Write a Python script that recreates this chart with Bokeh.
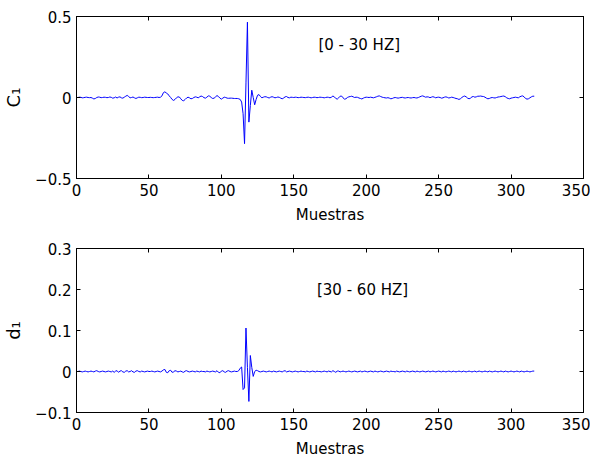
from bokeh.plotting import figure
from bokeh.layouts import column
from bokeh.models import Range1d, LinearAxis, FixedTicker, Label
from bokeh.embed import file_html
from bokeh.resources import INLINE

c1 = [
    0.000, 0.002, 0.001, -0.002, -0.001, 0.001, 0.002, 0.000, -0.001, 0.000,
    -0.004, -0.009, -0.006, 0.000, 0.003, 0.002, -0.001, 0.000, 0.002, 0.001,
    -0.001, 0.000, 0.003, 0.001, -0.004, -0.002, 0.003, -0.003, 0.002, 0.004,
    -0.002, -0.004, 0.002, 0.008, 0.013, 0.006, -0.002, 0.000, 0.003, -0.002,
    -0.006, -0.002, 0.002, 0.001, -0.001, 0.000, 0.002, 0.001, 0.000, 0.000,
    0.001, 0.000, -0.001, 0.000, 0.001, 0.002, 0.000, 0.002, 0.010, 0.030,
    0.035, 0.028, 0.022, 0.010, 0.000, -0.012, -0.018, -0.012, -0.002, 0.004,
    0.003, -0.008, -0.018, -0.020, -0.012, -0.003, 0.002, -0.002, -0.008, -0.006,
    0.000, 0.004, 0.002, -0.002, 0.004, 0.009, 0.006, -0.001, -0.004, 0.002,
    0.010, 0.008, 0.000, -0.006, -0.004, 0.004, 0.012, 0.006, -0.004, -0.010,
    -0.004, 0.002, 0.000, -0.004, -0.005, -0.004, -0.004, -0.005, -0.006, -0.006,
    -0.006, -0.008, -0.012, -0.028, -0.100, -0.285, 0.090, 0.465, -0.152, -0.050,
    0.045, 0.000, -0.045, -0.012, 0.014, 0.018, 0.006, -0.002, 0.002, 0.005,
    0.004, 0.000, -0.003, 0.002, 0.005, 0.002, -0.002, 0.000, 0.003, 0.001,
    -0.004, -0.008, -0.003, 0.004, 0.006, 0.000, -0.002, 0.002, 0.001, 0.000,
    0.002, 0.001, -0.001, 0.000, 0.002, 0.001, 0.000, -0.001, 0.001, 0.002,
    0.000, -0.002, 0.000, 0.002, 0.001, -0.001, 0.000, 0.002, 0.001, 0.000,
    -0.002, 0.000, 0.002, 0.001, -0.002, 0.002, 0.009, 0.004, -0.006, -0.010,
    -0.002, 0.008, 0.009, -0.002, -0.010, -0.008, 0.000, 0.004, 0.006, 0.008,
    0.004, 0.000, 0.002, 0.001, -0.003, -0.006, -0.009, -0.004, 0.000, 0.002,
    0.001, 0.000, 0.002, 0.000, -0.002, 0.001, 0.004, 0.008, 0.010, 0.006,
    0.002, 0.000, -0.002, -0.003, -0.001, -0.004, -0.008, -0.006, -0.002, 0.000,
    -0.002, -0.004, -0.002, 0.000, 0.001, -0.002, -0.003, -0.001, 0.000, -0.002,
    -0.003, -0.001, 0.000, -0.002, -0.003, 0.000, 0.004, 0.008, 0.010, 0.006,
    0.002, 0.004, 0.003, -0.001, 0.002, 0.005, 0.002, -0.002, 0.001, 0.002,
    0.000, -0.004, -0.002, 0.002, 0.004, 0.001, -0.003, -0.001, 0.002, 0.000,
    -0.003, -0.006, -0.008, -0.012, -0.008, 0.000, 0.006, 0.009, 0.004, -0.004,
    -0.008, -0.004, 0.004, 0.006, 0.002, 0.004, 0.008, 0.008, 0.009, 0.007,
    0.006, 0.002, -0.004, -0.008, -0.006, -0.002, 0.000, -0.002, -0.003, 0.000,
    0.003, 0.004, 0.006, 0.008, 0.009, 0.005, -0.002, -0.006, -0.008, -0.004,
    -0.002, 0.000, 0.002, 0.000, -0.002, 0.004, 0.008, 0.010, 0.004, -0.006,
    -0.010, -0.008, -0.002, 0.004, 0.008, 0.008,
]

d1 = [
    0.000, 0.001, 0.000, -0.001, 0.000, 0.001, 0.000, -0.001, 0.000, 0.001,
    0.000, -0.001, 0.001, 0.002, 0.000, -0.001, 0.000, 0.001, 0.000, -0.001,
    0.000, 0.001, 0.000, -0.001, 0.001, -0.002, 0.001, 0.002, -0.002, 0.001,
    0.002, -0.001, -0.002, 0.001, 0.002, -0.001, 0.000, 0.002, -0.001, -0.002,
    0.001, 0.002, 0.000, -0.001, 0.001, 0.000, -0.001, 0.000, 0.001, 0.000,
    0.000, 0.001, 0.000, -0.001, 0.000, 0.001, 0.000, -0.001, 0.001, 0.004,
    0.005, -0.002, -0.003, 0.002, 0.003, -0.002, -0.001, 0.002, 0.001, -0.001,
    0.000, 0.001, -0.001, -0.002, 0.001, 0.002, 0.000, -0.001, 0.000, 0.001,
    0.000, -0.001, 0.001, 0.000, -0.001, 0.001, 0.000, 0.000, -0.001, 0.001,
    0.000, -0.001, 0.000, 0.001, 0.000, -0.001, 0.002, -0.002, -0.003, 0.001,
    0.002, -0.001, -0.002, 0.001, 0.002, 0.000, -0.001, 0.000, 0.001, 0.000,
    0.000, 0.002, 0.008, 0.011, -0.044, -0.040, 0.106, 0.010, -0.073, 0.039,
    0.010, -0.012, 0.000, 0.003, 0.002, 0.000, -0.001, 0.000, 0.001, 0.000,
    -0.001, 0.000, 0.001, 0.000, -0.001, 0.001, 0.000, -0.001, 0.000, 0.001,
    0.000, -0.001, 0.001, 0.002, -0.001, 0.000, 0.001, 0.000, -0.001, 0.000,
    0.001, 0.000, -0.001, 0.000, 0.001, 0.000, 0.000, -0.001, 0.001, 0.000,
    -0.001, 0.000, 0.001, 0.000, -0.001, 0.001, 0.000, 0.000, -0.001, 0.000,
    0.001, 0.000, -0.001, 0.001, 0.000, -0.001, 0.002, 0.000, -0.002, 0.001,
    0.001, -0.001, 0.000, 0.001, 0.000, -0.001, 0.000, 0.001, 0.000, -0.001,
    0.000, 0.001, 0.000, -0.001, 0.000, 0.001, -0.001, 0.000, 0.001, 0.000,
    -0.001, 0.000, 0.001, 0.000, -0.001, 0.001, 0.000, -0.001, 0.000, 0.001,
    0.000, -0.001, 0.000, 0.001, 0.000, -0.001, 0.001, 0.000, 0.000, -0.001,
    0.001, 0.000, -0.001, 0.000, 0.001, 0.000, -0.001, 0.001, 0.000, -0.001,
    0.000, 0.001, 0.000, -0.001, 0.001, 0.000, -0.001, 0.000, 0.001, 0.000,
    -0.001, 0.000, 0.001, -0.001, 0.000, 0.001, 0.000, -0.001, 0.000, 0.001,
    0.000, -0.001, 0.001, 0.000, -0.001, 0.000, 0.001, 0.000, -0.001, 0.001,
    0.000, -0.001, 0.000, 0.001, 0.000, -0.001, 0.001, 0.000, -0.001, 0.000,
    0.001, 0.000, -0.001, 0.000, 0.001, -0.001, 0.000, 0.001, 0.000, -0.001,
    0.000, 0.001, 0.000, -0.001, 0.001, 0.000, -0.001, 0.000, 0.001, 0.000,
    -0.001, 0.000, 0.001, 0.000, -0.001, 0.001, 0.000, -0.001, 0.000, 0.001,
    0.000, -0.001, 0.000, 0.001, 0.000, -0.001, 0.001, 0.000, -0.001, 0.000,
    0.001, 0.000, -0.001, 0.000, 0.001, 0.001,
]

muestras = list(range(1, len(c1) + 1))

x_ticks = [0, 50, 100, 150, 200, 250, 300, 350]
c1_ticks = [-0.5, 0, 0.5]
c1_tick_labels = {-0.5: "\u22120.5", 0: "0", 0.5: "0.5"}
d1_ticks = [-0.1, 0, 0.1, 0.2, 0.3]
d1_tick_labels = {-0.1: "\u22120.1", 0: "0", 0.1: "0.1", 0.2: "0.2", 0.3: "0.3"}

FONT = "DejaVu Sans"


def style_axis(ax, ticks, overrides=None, labels=True):
    ax.ticker = FixedTicker(ticks=ticks)
    ax.minor_tick_line_color = None
    ax.major_tick_in = 4
    ax.major_tick_out = 0
    ax.major_tick_line_color = "black"
    ax.axis_line_color = "black"
    ax.major_label_text_font = FONT
    ax.major_label_text_color = "black"
    ax.major_label_text_font_size = "15px"
    ax.axis_label_text_font = FONT
    ax.axis_label_text_font_style = "normal"
    ax.axis_label_text_color = "black"
    if labels:
        if overrides:
            ax.major_label_overrides = overrides
        ax.major_label_standoff = 5
    else:
        ax.major_label_overrides = {t: "" for t in ticks}
        ax.major_label_standoff = 0


def make_panel(y, y_range, y_ticks, y_labels, ylabel, note, note_x, note_y,
               height, border_top, border_bottom):
    p = figure(width=590, height=height, output_backend="svg",
               toolbar_location=None,
               x_range=Range1d(0, 350), y_range=Range1d(*y_range),
               min_border_left=76, min_border_right=7,
               min_border_top=border_top, min_border_bottom=border_bottom)
    p.xgrid.visible = False
    p.ygrid.visible = False
    p.outline_line_color = "black"
    p.line(muestras, y, line_color="#0000ff", line_width=1)

    style_axis(p.xaxis[0], x_ticks)
    p.xaxis[0].axis_label = "Muestras"
    p.xaxis[0].axis_label_text_font_size = "15px"
    p.xaxis[0].axis_label_standoff = 7
    style_axis(p.yaxis[0], y_ticks, y_labels)
    p.yaxis[0].axis_label = ylabel
    p.yaxis[0].axis_label_text_font_size = "18px"
    p.yaxis[0].axis_label_standoff = 8

    top = LinearAxis()
    style_axis(top, x_ticks, labels=False)
    p.add_layout(top, "above")
    right = LinearAxis()
    style_axis(right, y_ticks, labels=False)
    p.add_layout(right, "right")

    p.add_layout(Label(x=note_x, y=note_y, text=note, text_font=FONT,
                       text_font_size="15px", text_color="black",
                       text_baseline="middle", text_align="left"))
    return p


p1 = make_panel(c1, (-0.5, 0.5), c1_ticks, c1_tick_labels, "C\u2081",
                "[0 - 30 HZ]", 167, 0.327, 230, 16, 52)
p2 = make_panel(d1, (-0.1, 0.3), d1_ticks, d1_tick_labels, "d\u2081",
                "[30 - 60 HZ]", 166, 0.2, 230, 18, 48)

p = column(p1, p2)
open("out.html", "w").write(file_html(p, INLINE))
